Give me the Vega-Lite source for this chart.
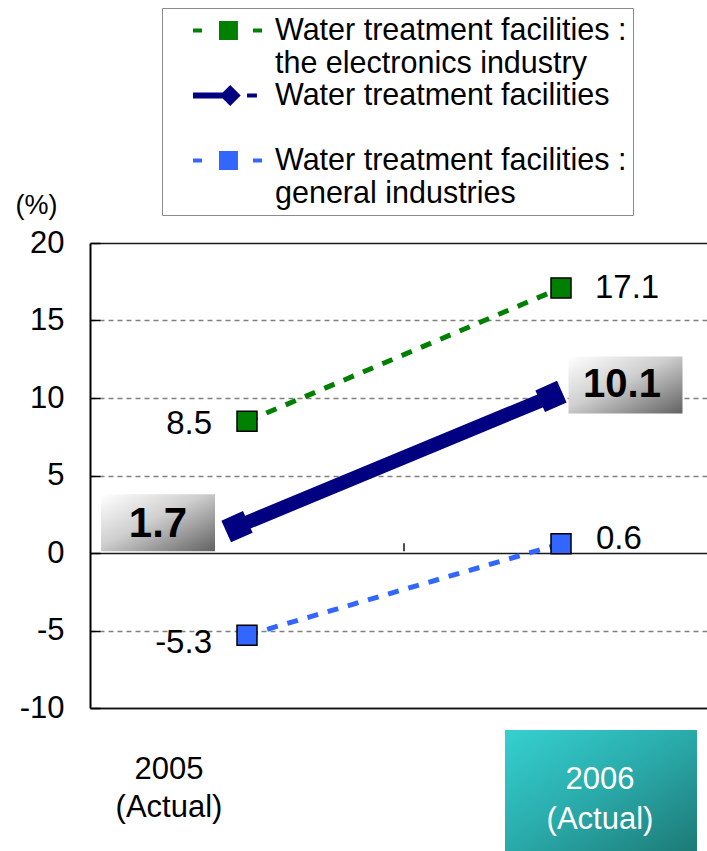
{
  "$schema": "https://vega.github.io/schema/vega-lite/v6.json",
  "width": 617,
  "height": 465,
  "autosize": {"type": "none"},
  "padding": {"left": 90, "top": 243, "right": 0, "bottom": 143},
  "background": "white",
  "config": {
    "font": "Liberation Sans",
    "view": {"stroke": null},
    "locale": {"number": {"decimal": ".", "thousands": ",", "grouping": [3], "currency": ["$", ""], "minus": "-"}},
    "style": {"guide-label": {"lineHeight": 33}}
  },
  "datasets": {
    "main": [
      {"series": "elec", "year": "2005", "value": 8.5},
      {"series": "elec", "year": "2006", "value": 17.1},
      {"series": "total", "year": "2005", "value": 1.7},
      {"series": "total", "year": "2006", "value": 10.1},
      {"series": "gen", "year": "2005", "value": -5.3},
      {"series": "gen", "year": "2006", "value": 0.6}
    ]
  },
  "data": {"name": "main"},
  "encoding": {
    "x": {
      "field": "year", "type": "nominal",
      "scale": {"type": "band", "domain": ["2005", "2006"], "range": [0, 628], "paddingInner": 0, "paddingOuter": 0},
      "axis": {"labels": false, "ticks": false, "title": null, "domainColor": "#111111", "domainWidth": 1.5, "grid": false}
    },
    "y": {
      "field": "value", "type": "quantitative",
      "scale": {"domain": [-10, 20], "nice": false, "zero": false},
      "axis": {
        "title": "(%)", "titleAngle": 0, "titleAlign": "left", "titleBaseline": "middle",
        "titleX": -75, "titleY": -38, "titleFontSize": 27, "titleFontWeight": "normal", "titleColor": "black",
        "values": [-10, -5, 0, 5, 10, 15, 20], "format": "d",
        "labelFontSize": 31, "labelColor": "black", "labelPadding": 36, "labelFlush": false,
        "tickSize": -10, "tickColor": "black", "tickWidth": 1.5,
        "domainColor": "black", "domainWidth": 2,
        "grid": true,
        "gridColor": {"condition": {"test": "datum.value === 0 || datum.value === 20 || datum.value === -10", "value": "#1A1A1A"}, "value": "#808080"},
        "gridDash": {"condition": {"test": "datum.value === 0 || datum.value === 20 || datum.value === -10", "value": [1, 0]}, "value": [5, 4]},
        "gridWidth": 1.5
      }
    }
  },
  "layer": [
    {
      "transform": [{"filter": "datum.series === 'gen' && datum.year === '2006'"}],
      "mark": {"type": "point", "filled": false, "opacity": 1, "stroke": "#111111", "strokeWidth": 1.5,
               "shape": "M0,-1L0,1", "size": 64, "yOffset": 3.5},
      "encoding": {"x": {"field": "year", "type": "nominal", "bandPosition": 0}}
    },
    {
      "transform": [{"filter": "datum.series === 'gen' && datum.year === '2006'"}],
      "mark": {"type": "point", "filled": true, "opacity": 1, "strokeWidth": 0,
               "shape": "M-1,-0.63L1,-0.63L1,0.63L-1,0.63Z", "size": 36864, "xOffset": 40, "yOffset": 246.8,
               "fill": {"gradient": "linear", "x1": 0, "y1": 0, "x2": 1, "y2": 1,
                        "stops": [{"offset": 0, "color": "#36D0D0"}, {"offset": 0.5, "color": "#2AAAAA"}, {"offset": 1, "color": "#1D7A76"}]}}
    },
    {
      "transform": [{"filter": "datum.series === 'gen' && datum.year === '2005'"}],
      "mark": {"type": "text", "fontSize": 31, "color": "black", "align": "center", "baseline": "middle", "dx": -78, "dy": 134.9},
      "encoding": {"text": {"field": "year", "type": "nominal"}}
    },
    {
      "transform": [{"filter": "datum.series === 'gen' && datum.year === '2005'"}],
      "mark": {"type": "text", "fontSize": 31, "color": "black", "align": "center", "baseline": "middle", "dx": -78, "dy": 172.9},
      "encoding": {"text": {"value": "(Actual)"}}
    },
    {
      "transform": [{"filter": "datum.series === 'gen' && datum.year === '2006'"}],
      "mark": {"type": "text", "fontSize": 31, "color": "white", "align": "center", "baseline": "middle", "dx": 39, "dy": 236.3},
      "encoding": {"text": {"field": "year", "type": "nominal"}}
    },
    {
      "transform": [{"filter": "datum.series === 'gen' && datum.year === '2006'"}],
      "mark": {"type": "text", "fontSize": 31, "color": "white", "align": "center", "baseline": "middle", "dx": 39, "dy": 276.3},
      "encoding": {"text": {"value": "(Actual)"}}
    },
    {
      "transform": [{"filter": "datum.series === 'elec'"}],
      "mark": {"type": "line", "color": "#008000", "strokeWidth": 5, "strokeDash": [11, 10]}
    },
    {
      "transform": [{"filter": "datum.series === 'gen'"}],
      "mark": {"type": "line", "color": "#3366FF", "strokeWidth": 5, "strokeDash": [11, 10]}
    },
    {
      "transform": [{"filter": "datum.series === 'total'"}],
      "mark": {"type": "line", "color": "#000080", "strokeWidth": 14, "xOffset": -10}
    },
    {
      "transform": [{"filter": "datum.series === 'elec'"}],
      "mark": {"type": "point", "shape": "square", "size": 400, "filled": true, "fill": "#008000", "stroke": "black", "strokeWidth": 1.5, "opacity": 1}
    },
    {
      "transform": [{"filter": "datum.series === 'gen'"}],
      "mark": {"type": "point", "shape": "square", "size": 400, "filled": true, "fill": "#3366FF", "stroke": "black", "strokeWidth": 1.5, "opacity": 1}
    },
    {
      "transform": [{"filter": "datum.series === 'total'"}],
      "mark": {"type": "point", "shape": "square", "angle": -24, "size": 560, "filled": true, "fill": "#000080", "strokeWidth": 0, "opacity": 1, "xOffset": -10}
    },
    {
      "mark": {"type": "point", "filled": true, "opacity": 1, "size": 1089, "strokeWidth": 0, "xOffset": 3000},
      "encoding": {
        "color": {
          "field": "series", "type": "nominal",
          "scale": {"domain": ["elec", "total", "gen"], "range": ["#008000", "#000080", "#3366FF"]},
          "legend": {
            "title": null, "orient": "none", "legendX": 72, "legendY": -235,
            "padding": 6, "strokeColor": "#8C8C8C", "fillColor": "white", "rowPadding": 0,
            "labelOffset": 74, "labelFontSize": 30.5, "labelColor": "black", "labelLimit": 600,
            "symbolSize": 1089, "symbolOpacity": 1, "symbolStrokeWidth": 0,
            "labelExpr": "datum.value === 'elec' ? ['Water treatment facilities :', 'the electronics industry'] : datum.value === 'total' ? ['Water treatment facilities', ' '] : ['Water treatment facilities :', 'general industries']"
          }
        },
        "shape": {
          "field": "series", "type": "nominal",
          "scale": {"domain": ["elec", "total", "gen"], "range": [
            "M0.515,-0.12L1.06,-0.12L1.06,0.12L0.515,0.12Z M2.09,-0.576L3.24,-0.576L3.24,0.576L2.09,0.576Z M4.15,-0.12L4.7,-0.12L4.7,0.12L4.15,0.12Z",
            "M0.515,-0.18L2.4,-0.18L2.4,0.18L0.515,0.18Z M2.77,-0.636L3.406,0L2.77,0.636L2.134,0Z M3.79,-0.12L4.39,-0.12L4.39,0.12L3.79,0.12Z",
            "M0.515,-0.12L1.06,-0.12L1.06,0.12L0.515,0.12Z M2.09,-0.576L3.24,-0.576L3.24,0.576L2.09,0.576Z M4.15,-0.12L4.7,-0.12L4.7,0.12L4.15,0.12Z"
          ]},
          "legend": {"title": null, "orient": "none", "legendX": 72, "legendY": -235}
        }
      }
    },
    {
      "transform": [{"filter": "datum.series === 'total' && datum.year === '2005'"}],
      "mark": {"type": "point", "filled": true, "opacity": 1, "strokeWidth": 0,
               "shape": "M-1,-0.5L1,-0.5L1,0.5L-1,0.5Z", "size": 12996, "xOffset": -89, "yOffset": -4,
               "fill": {"gradient": "linear", "x1": 0, "y1": 0, "x2": 1, "y2": 1,
                        "stops": [{"offset": 0, "color": "#FFFFFF"}, {"offset": 0.45, "color": "#CFCFCF"}, {"offset": 1, "color": "#616161"}]}}
    },
    {
      "transform": [{"filter": "datum.series === 'total' && datum.year === '2006'"}],
      "mark": {"type": "point", "filled": true, "opacity": 1, "strokeWidth": 0,
               "shape": "M-1,-0.5L1,-0.5L1,0.5L-1,0.5Z", "size": 12996, "xOffset": 64.5, "yOffset": -11.5,
               "fill": {"gradient": "linear", "x1": 0, "y1": 0, "x2": 1, "y2": 1,
                        "stops": [{"offset": 0, "color": "#FFFFFF"}, {"offset": 0.45, "color": "#CFCFCF"}, {"offset": 1, "color": "#616161"}]}}
    },
    {
      "transform": [{"filter": "datum.series === 'total' && datum.year === '2005'"}],
      "mark": {"type": "text", "fontSize": 42, "fontWeight": "bold", "color": "black", "align": "center", "baseline": "middle", "dx": -89, "dy": -3},
      "encoding": {"text": {"field": "value", "type": "quantitative", "format": ".1f"}}
    },
    {
      "transform": [{"filter": "datum.series === 'total' && datum.year === '2006'"}],
      "mark": {"type": "text", "fontSize": 40, "fontWeight": "bold", "color": "black", "align": "center", "baseline": "middle", "dx": 61, "dy": -11},
      "encoding": {"text": {"field": "value", "type": "quantitative", "format": ".1f"}}
    },
    {
      "transform": [{"filter": "datum.series === 'elec' && datum.year === '2005'"}],
      "mark": {"type": "text", "fontSize": 33, "color": "black", "align": "right", "baseline": "middle", "dx": -35, "dy": 3},
      "encoding": {"text": {"field": "value", "type": "quantitative", "format": ".1f"}}
    },
    {
      "transform": [{"filter": "datum.series === 'elec' && datum.year === '2006'"}],
      "mark": {"type": "text", "fontSize": 33, "color": "black", "align": "left", "baseline": "middle", "dx": 34, "dy": 0},
      "encoding": {"text": {"field": "value", "type": "quantitative", "format": ".1f"}}
    },
    {
      "transform": [{"filter": "datum.series === 'gen' && datum.year === '2005'"}],
      "mark": {"type": "text", "fontSize": 33, "color": "black", "align": "right", "baseline": "middle", "dx": -35, "dy": 8},
      "encoding": {"text": {"field": "value", "type": "quantitative", "format": ".1f"}}
    },
    {
      "transform": [{"filter": "datum.series === 'gen' && datum.year === '2006'"}],
      "mark": {"type": "text", "fontSize": 33, "color": "black", "align": "left", "baseline": "middle", "dx": 35, "dy": -5},
      "encoding": {"text": {"field": "value", "type": "quantitative", "format": ".1f"}}
    }
  ]
}
